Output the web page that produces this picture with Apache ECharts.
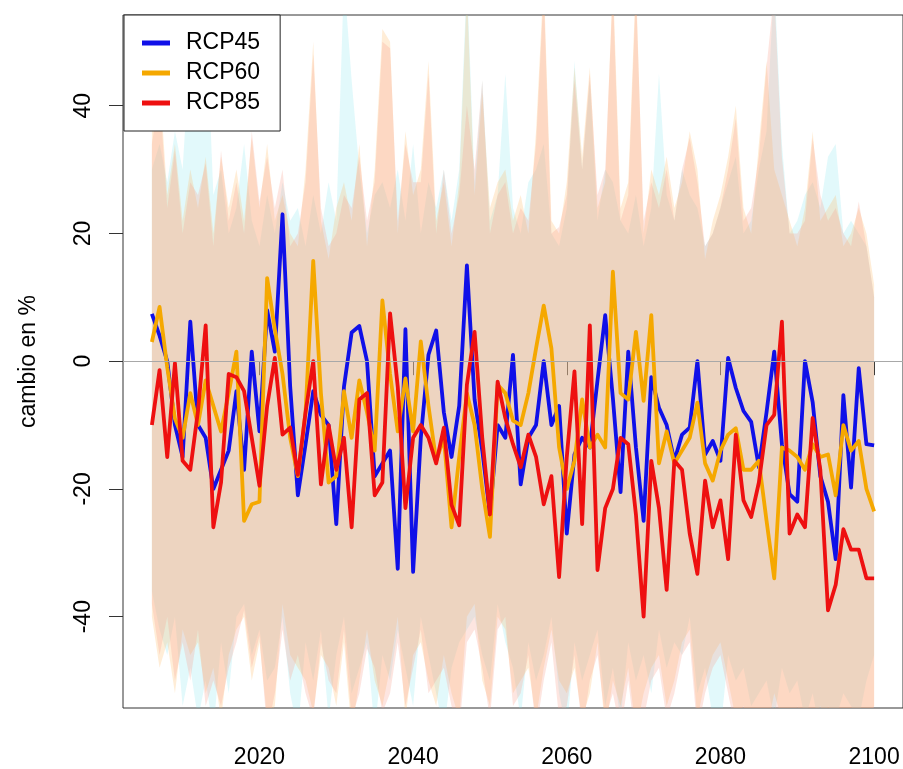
<!DOCTYPE html>
<html>
<head>
<meta charset="utf-8">
<script src="https://cdn.jsdelivr.net/npm/echarts@6/dist/echarts.min.js"></script>
<style>
html,body{margin:0;padding:0;background:#fff;}
#chart{width:903px;height:769px;}
</style>
</head>
<body>
<div id="chart"></div>
<script>
// ---- data ----
const years = [];
for (let y = 2006; y <= 2100; y++) years.push(y);

const xTicks = [2020, 2040, 2060, 2080, 2100];
const yTicks = [-40, -20, 0, 20, 40];
const seriesNames = ['RCP45', 'RCP60', 'RCP85'];

const rcp45 = [
  7.4, 4, 0, -10, -15, 6.2, -10, -12, -20, -17,
  -14, -4.7, -17, 1.5, -11, 8, 1.5, 23, -4, -21,
  -13, -4.7, -8.4, -10, -25.5, -4, 4.5, 5.5, 0, -18,
  -16, -14, -32.5, 5, -33, -12, 1, 4.8, -8, -15,
  -7, 15, -6, -14, -24, -10, -12, 1, -19.3, -12,
  -10, 0, -10, -7, -27, -14.6, -12, -13.5, -3, 7.2,
  -5.8, -20.5, 1.5, -13.5, -25, -2.5, -7.3, -10, -15.6, -11.5,
  -10.4, 0, -14.6, -12.5, -15.6, 0.5, -4.2, -7.8, -9.5, -16.6,
  -8, 1.5, -13, -20.8, -22, 0, -6.4, -18, -22, -31,
  -5.3, -19.8, -1.1, -13, -13.2
];
const rcp60 = [
  3, 8.5, -1, -9, -12, -5, -10, -3, -7, -11,
  -5, 1.5, -25, -22.4, -22, 13, 5, -2, -12, -18,
  -8, 15.7, -5, -19, -18, -4.7, -12, -3, -8, -14,
  9.5, -2, -11, -2.7, -11, 3.1, -7, -15.6, -12, -26,
  -15, -5, -10, -20, -27.5, -3.7, -5, -9.3, -10, -5,
  2, 8.7, 2, -13.5, -20, -15.6, -6, -13.5, -11.5, -13.5,
  14, -5, -6, 4.6, -6.2, 7.2, -16, -11, -16, -14,
  -12, -6.5, -16, -18.7, -14, -11.5, -10.5, -17, -17, -15.6,
  -25, -34, -13.5, -14, -15, -17, -13, -15, -14.6, -21,
  -10, -14, -12.5, -20, -23.5
];
const rcp85 = [
  -10, -1.4, -15, -0.3, -15.6, -17, -7.8, 5.6, -26, -19,
  -2, -2.5, -4.7, -12, -19.5, -7, 0.5, -11.5, -10.4, -17.8,
  -8, 0, -19.3, -10, -17, -12, -26, -6, -5, -21,
  -19, 7.5, -4, -23, -12, -10, -12, -16, -10.4, -22.5,
  -25.7, -3.7, 4.6, -12, -24, -3.2, -8.9, -13, -16.6, -11.5,
  -15, -22.4, -18, -33.8, -15, -1.6, -25.5, 5.6, -32.7, -23,
  -20, -12, -13, -24, -40, -15.6, -23, -35.8, -15.6, -17,
  -27, -33.3, -18.7, -26, -21.8, -31, -11.5, -21.8, -24.4, -19,
  -10, -8.4, 6.2, -27, -24, -26, -8.9, -17, -39, -35,
  -26.3, -29.5, -29.5, -34, -34
];

// model-spread bands (upper / lower), one value per year
const band45Hi = [
  30, 34, 28, 36, 30, 50, 40, 56, 26, 30,
  20, 24, 34, 22, 18, 26, 20, 28, 22, 24,
  18, 26, 20, 28, 22, 60, 44, 30, 20, 26,
  28, 24, 30, 22, 34, 20, 28, 24, 30, 22,
  30, 60, 28, 44, 22, 26, 45, 24, 20, 28,
  30, 34, 20, 18, 24, 47, 30, 44, 22, 30,
  28, 22, 20, 26, 18, 24, 45, 26, 22, 30,
  26, 24, 18, 20, 24, 28, 32, 20, 22, 30,
  36, 60, 34, 20, 22, 26, 28, 24, 32, 34,
  20, 22, 20, 18, 10
];
const band45Lo = [
  -36, -42, -46, -40, -54, -48, -56, -50, -58, -44,
  -52, -40, -38, -46, -42, -50, -48, -40, -52, -58,
  -44, -50, -42, -56, -46, -40, -52, -48, -44, -58,
  -46, -50, -42, -48, -54, -40, -46, -52, -58, -48,
  -44, -42, -40, -46, -50, -38, -44, -48, -56, -44,
  -50, -46, -40, -52, -58, -44, -50, -46, -42, -54,
  -48, -56, -44, -50, -46, -52, -42, -48, -44, -46,
  -40, -52, -48, -56, -58, -46, -50, -48, -54, -52,
  -50, -56, -48, -52, -50, -56, -52, -58, -54, -56,
  -52, -54, -56, -50, -46
];
const band60Hi = [
  36, 44, 26, 34, 22, 30, 24, 32, 20, 32,
  24, 30, 22, 35, 24, 34, 22, 26, 20, 18,
  30, 50, 22, 16, 24, 28, 22, 34, 18, 30,
  52, 50, 20, 36, 26, 30, 47, 22, 28, 18,
  28, 58, 26, 42, 24, 28, 30, 22, 26, 20,
  36, 60, 22, 20, 28, 46, 32, 46, 24, 28,
  60, 24, 28, 60, 20, 30, 26, 32, 24, 28,
  36, 30, 16, 22, 26, 32, 40, 24, 20, 34,
  47, 30, 26, 22, 18, 24, 36, 22, 24, 26,
  18, 20, 24, 20, 12
];
const band60Lo = [
  -40, -48, -44, -52, -42, -46, -44, -52, -48, -56,
  -46, -42, -40, -50, -44, -56, -54, -38, -46, -48,
  -50, -55, -46, -48, -54, -44, -58, -50, -42, -50,
  -54, -48, -40, -56, -46, -44, -50, -54, -46, -52,
  -56, -40, -38, -50, -54, -40, -42, -52, -50, -48,
  -56, -48, -42, -50, -52, -48, -56, -52, -44, -58,
  -50, -54, -48, -58, -52, -48, -46, -54, -50, -44,
  -42, -56, -50, -46, -44, -50, -56, -54, -58, -56,
  -58, -52, -56, -58, -54, -60, -56, -54, -58, -60,
  -56, -60, -58, -56, -54
];
const band85Hi = [
  34, 42, 24, 33, 20, 28, 26, 31, 18, 33,
  22, 28, 20, 36, 25, 32, 24, 30, 18, 20,
  28, 48, 24, 18, 20, 26, 24, 32, 22, 28,
  50, 49, 22, 34, 28, 28, 45, 20, 30, 20,
  26, 40, 30, 44, 20, 26, 28, 20, 24, 22,
  34, 58, 20, 21, 26, 44, 30, 45, 26, 30,
  58, 22, 26, 58, 22, 28, 24, 30, 22, 30,
  35, 28, 18, 20, 24, 30, 38, 22, 24, 32,
  46, 58, 32, 20, 20, 22, 35, 26, 22, 24,
  20, 18, 25, 18, 10
];
const band85Lo = [
  -38, -46, -40, -50, -44, -50, -42, -54, -50, -54,
  -48, -44, -39, -48, -43, -58, -52, -42, -50, -46,
  -52, -56, -44, -50, -52, -42, -56, -52, -45, -48,
  -55, -52, -44, -54, -48, -42, -52, -50, -48, -54,
  -58, -44, -42, -48, -56, -42, -40, -54, -52, -46,
  -58, -50, -44, -56, -54, -46, -58, -50, -46, -56,
  -52, -58, -50, -60, -56, -50, -48, -56, -52, -46,
  -44, -58, -52, -48, -46, -52, -58, -56, -60, -58,
  -60, -54, -58, -60, -58, -60, -58, -60, -60, -62,
  -58, -62, -60, -58, -56
];

// ---- chart ----
const FONT = 'Liberation Sans, Arial, Helvetica, sans-serif';

function bandSeries(name, lo, hi, color) {
  return {
    type: 'custom',
    name: name,
    silent: true,
    z: 1,
    clip: true,
    data: years.map((y, i) => [y, lo[i], hi[i]]),
    encode: { x: 0, y: [1, 2] },
    renderItem: function (params, api) {
      if (params.dataIndex !== 0) return null;
      const pts = [];
      for (let i = 0; i < years.length; i++) pts.push(api.coord([years[i], hi[i]]));
      for (let i = years.length - 1; i >= 0; i--) pts.push(api.coord([years[i], lo[i]]));
      const cs = params.coordSys;
      return {
        type: 'polygon',
        shape: { points: pts },
        style: { fill: color },
        clipPath: { type: 'rect', shape: { x: cs.x, y: cs.y, width: cs.width, height: cs.height } }
      };
    }
  };
}

function lineSeries(name, vals, color) {
  return {
    type: 'line',
    name: name,
    data: years.map((y, i) => [y, vals[i]]),
    symbol: 'none',
    showSymbol: false,
    z: 3,
    lineStyle: { color: color, width: 3.8, join: 'round' },
    itemStyle: { color: color }
  };
}

const chart = echarts.init(document.getElementById('chart'), null, { renderer: 'canvas' });
chart.setOption({
  animation: false,
  backgroundColor: '#ffffff',
  textStyle: { fontFamily: FONT },
  grid: {
    left: 123, right: -2, top: 15, bottom: 57,
    show: true, borderColor: '#333', borderWidth: 1, backgroundColor: 'transparent'
  },
  legend: {
    data: seriesNames,
    orient: 'vertical',
    left: 124, top: 15,
    backgroundColor: '#fff',
    borderColor: '#222', borderWidth: 1, borderRadius: 0,
    padding: [16, 20, 16, 18],
    icon: 'rect',
    itemWidth: 28, itemHeight: 5,
    itemGap: 6,
    textStyle: { fontFamily: FONT, fontSize: 23, color: '#000', lineHeight: 24, padding: [0, 0, 0, 11] },
    selectedMode: false
  },
  xAxis: {
    type: 'value',
    min: 2002.24, max: 2103.76,
    splitLine: { show: false },
    axisLine: { show: false },
    axisTick: { show: true, customValues: xTicks, length: 14, lineStyle: { color: '#333', width: 1 } },
    axisLabel: { customValues: xTicks, fontSize: 23, color: '#000', margin: 38, fontFamily: FONT,
                 formatter: v => String(v) }
  },
  yAxis: {
    type: 'value',
    min: -54.3, max: 54.2,
    name: 'cambio en %',
    nameLocation: 'middle',
    nameGap: 83,
    nameRotate: 90,
    nameTextStyle: { fontSize: 23, color: '#000', fontFamily: FONT },
    splitLine: { show: false },
    axisLine: { show: false },
    axisTick: { show: true, customValues: yTicks, length: 14, lineStyle: { color: '#333', width: 1 } },
    axisLabel: { customValues: yTicks, fontSize: 23, color: '#000', rotate: 90, margin: 28, fontFamily: FONT,
                 formatter: v => String(v) }
  },
  series: [
    bandSeries('band45', band45Lo, band45Hi, 'rgba(110,225,235,0.20)'),
    bandSeries('band60', band60Lo, band60Hi, 'rgba(255,185,100,0.26)'),
    bandSeries('band85', band85Lo, band85Hi, 'rgba(248,160,140,0.27)'),
    {
      type: 'line', name: 'zero', data: [], z: 2, silent: true,
      markLine: {
        silent: true, symbol: 'none', label: { show: false },
        lineStyle: { color: '#a8a8a8', width: 1, type: 'solid' },
        data: [{ yAxis: 0 }]
      }
    },
    lineSeries('RCP45', rcp45, '#1010e8'),
    lineSeries('RCP60', rcp60, '#f5a800'),
    lineSeries('RCP85', rcp85, '#ee1010')
  ]
});
</script>
</body>
</html>
